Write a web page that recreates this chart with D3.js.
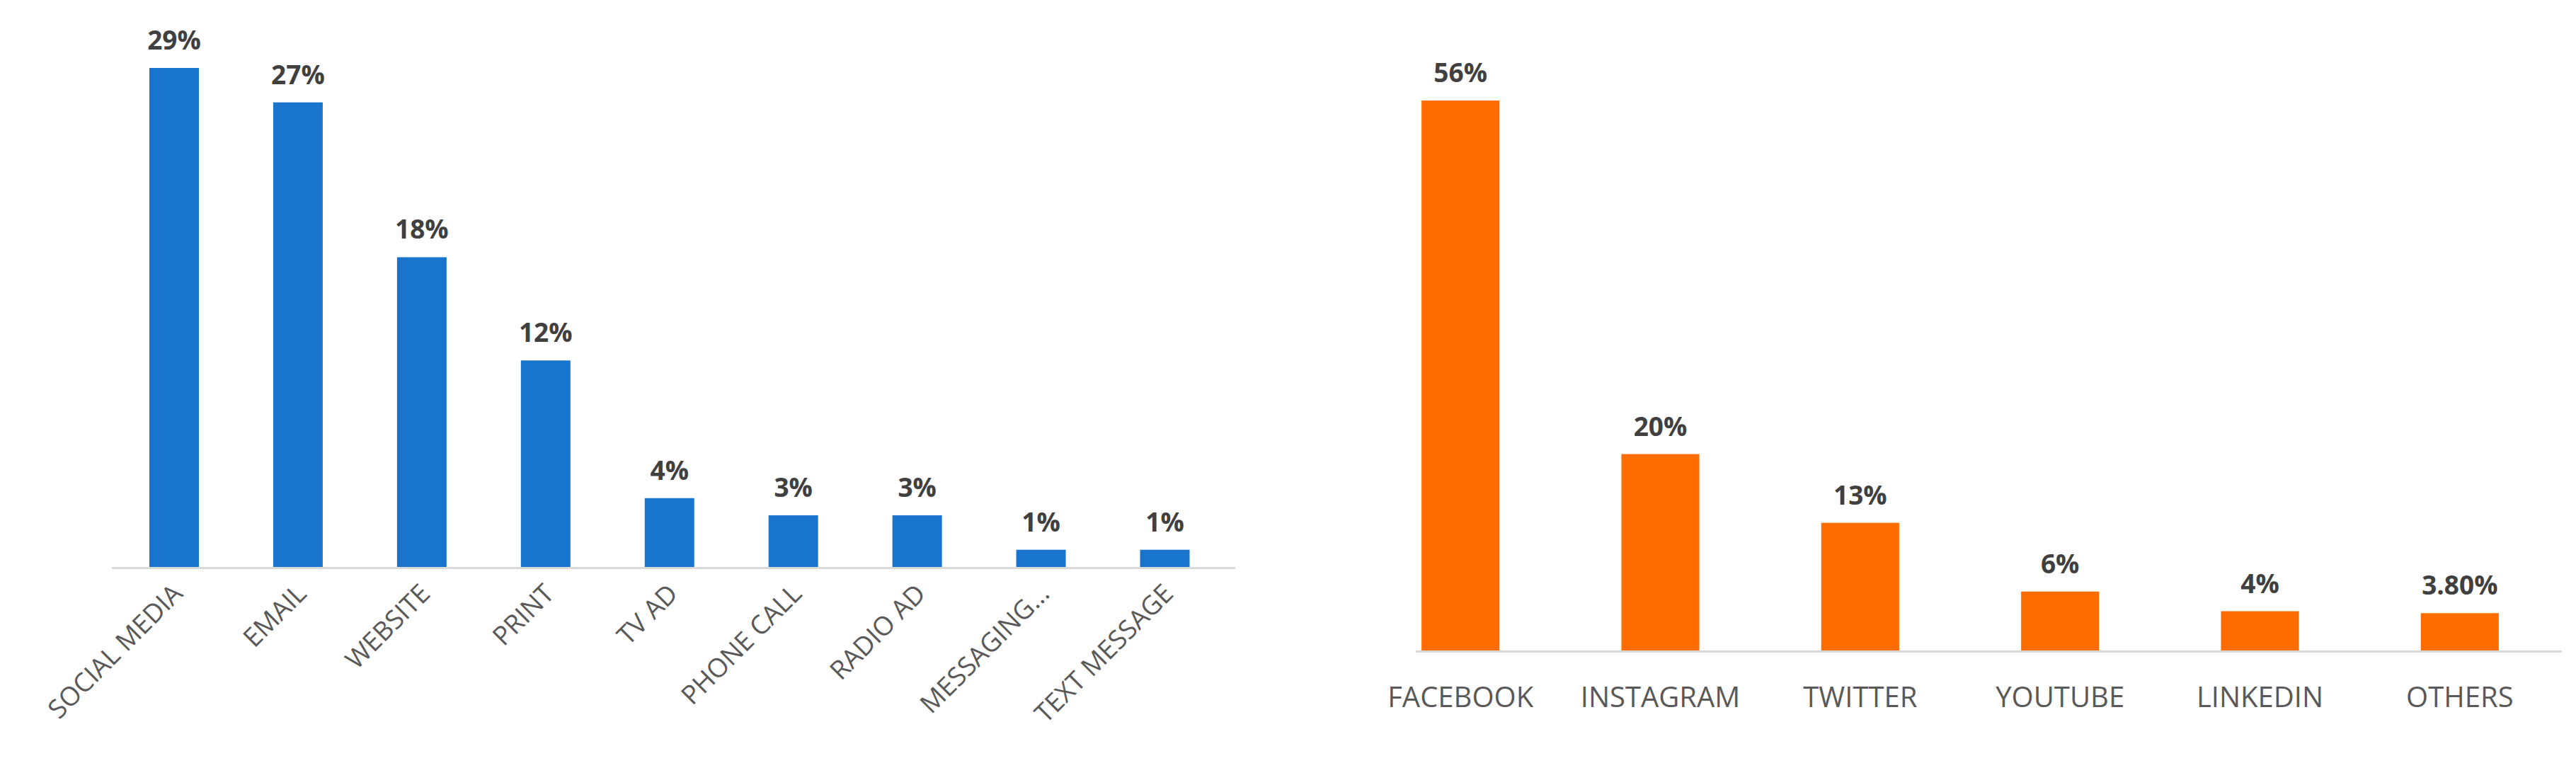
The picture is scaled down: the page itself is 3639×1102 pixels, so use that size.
<!doctype html>
<html>
<head>
<meta charset="utf-8">
<script src="https://d3js.org/d3.v7.min.js"></script>
<style>
  body { margin: 0; background: #fff; }
  text { font-family: "Open Sans", sans-serif; }
</style>
</head>
<body>
<script>
// left chart: channels
var channels = ["SOCIAL MEDIA", "EMAIL", "WEBSITE", "PRINT", "TV AD", "PHONE CALL", "RADIO AD", "MESSAGING...", "TEXT MESSAGE"];
var channelValues = [29, 27, 18, 12, 4, 3, 3, 1, 1];
var channelLabels = ["29%", "27%", "18%", "12%", "4%", "3%", "3%", "1%", "1%"];

// right chart: social networks
var networks = ["FACEBOOK", "INSTAGRAM", "TWITTER", "YOUTUBE", "LINKEDIN", "OTHERS"];
var networkValues = [56, 20, 13, 6, 4, 3.8];
var networkLabels = ["56%", "20%", "13%", "6%", "4%", "3.80%"];

var svg = d3.select("body").append("svg").attr("width", 3639).attr("height", 1102);

function barChart(cfg) {
    var x = d3.scaleBand().domain(cfg.cats).range(cfg.xr).paddingInner(cfg.pi).paddingOuter(cfg.po);
    var y = d3.scaleLinear().domain([0, cfg.max]).range([cfg.base, cfg.top]);
    var g = svg.append("g");

    g.append("line")
        .attr("x1", cfg.axis[0]).attr("x2", cfg.axis[1])
        .attr("y1", cfg.base + 1.5).attr("y2", cfg.base + 1.5)
        .style("stroke", "#d9d9d9").style("stroke-width", 3);

    g.selectAll("rect.bar").data(cfg.vals).enter().append("rect")
        .attr("x", function(d, i) { return x(cfg.cats[i]); })
        .attr("y", function(d) { return y(d); })
        .attr("width", x.bandwidth())
        .attr("height", function(d) { return cfg.base - y(d); })
        .style("fill", cfg.color);

    g.selectAll("text.val").data(cfg.vals).enter().append("text")
        .attr("x", function(d, i) { return x(cfg.cats[i]) + x.bandwidth() / 2; })
        .attr("y", function(d) { return y(d) - 26; })
        .attr("text-anchor", "middle")
        .style("font-size", "37px").style("font-weight", "bold").style("fill", "#404040")
        .text(function(d, i) { return cfg.labels[i]; });

    g.selectAll("text.cat").data(cfg.cats).enter().append("text")
        .attr("transform", function(d) {
            var cx = x(d) + x.bandwidth() / 2;
            return cfg.rotate
                ? "translate(" + (cx + 14) + "," + (cfg.base + 40) + ") rotate(-45)"
                : "translate(" + cx + "," + (cfg.base + 80) + ")";
        })
        .attr("text-anchor", cfg.rotate ? "end" : "middle")
        .style("font-size", cfg.rotate ? "37px" : "40px").style("fill", "#595959")
        .text(function(d) { return d; });
}

barChart({cats: channels, vals: channelValues, labels: channelLabels, color: "#1874CD",
    xr: [158.5, 1733], pi: 0.6, po: 0.3, max: 29, base: 801, top: 96,
    axis: [158, 1745], rotate: true});

barChart({cats: networks, vals: networkValues, labels: networkLabels, color: "#FF6D00",
    xr: [1922, 3616], pi: 0.61, po: 0.305, max: 56, base: 919, top: 142,
    axis: [2000, 3619], rotate: false});
</script>
</body>
</html>
